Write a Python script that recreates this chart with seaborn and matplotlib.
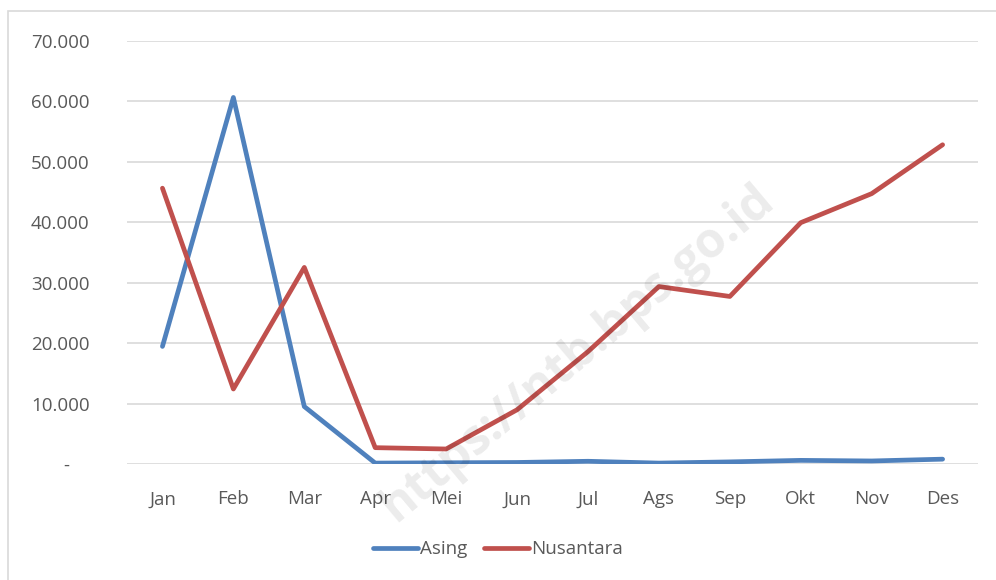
import matplotlib
matplotlib.use("Agg")
import matplotlib.pyplot as plt
import seaborn as sns
import pandas as pd
from matplotlib.patches import Rectangle
from matplotlib.lines import Line2D

months = ["Jan", "Feb", "Mar", "Apr", "Mei", "Jun", "Jul", "Ags", "Sep", "Okt", "Nov", "Des"]
asing = [19440, 60600, 9500, 150, 200, 250, 450, 150, 350, 600, 500, 800]
nusantara = [45600, 12400, 32500, 2700, 2480, 8970, 18580, 29340, 27700, 39900, 44700, 52780]
series_names = ["Asing", "Nusantara"]
yticks = [0, 10000, 20000, 30000, 40000, 50000, 60000, 70000]

df = pd.DataFrame({
    "Bulan": months * 2,
    "Jumlah": asing + nusantara,
    "Seri": [series_names[0]] * len(months) + [series_names[1]] * len(months),
})
df["x"] = [i for i in range(len(months))] * 2

sns.set_style("white")
plt.rcParams["font.family"] = ["Open Sans", "DejaVu Sans"]

fig = plt.figure(figsize=(9.96, 5.80), dpi=100)
ax = fig.add_axes([0.1275, 0.2, 0.8545, 0.730])

palette = {"Asing": "#4F81BD", "Nusantara": "#C0504D"}
sns.lineplot(data=df, x="x", y="Jumlah", hue="Seri", palette=palette,
             linewidth=3.4, ax=ax, legend=False, sort=False)
for l in ax.lines:
    l.set_solid_capstyle("round")
    l.set_solid_joinstyle("round")

ax.set_xlim(-0.5, len(months) - 0.5)
ax.set_ylim(0, 70000)
ax.set_yticks(yticks)
ax.set_yticklabels(["-    " if v == 0 else f"{v:,}".replace(",", ".") for v in yticks])
ax.set_xticks(range(len(months)))
ax.set_xticklabels(months)
ax.tick_params(axis="both", length=0, labelsize=13.5, colors="#595959")
ax.tick_params(axis="y", pad=27)
ax.tick_params(axis="x", pad=19)
ax.set_xlabel("")
ax.set_ylabel("")
for s in ax.spines.values():
    s.set_visible(False)
ax.grid(axis="y", color="#D9D9D9", linewidth=1.2)
ax.set_axisbelow(True)

# legend
handles = [Line2D([0], [0], color=palette[n], linewidth=3.4, solid_capstyle="round") for n in series_names]
fig.legend(handles, series_names, loc="center", bbox_to_anchor=(0.5, 0.053), ncol=2,
           frameon=False, fontsize=13.5, handlelength=2.4, handletextpad=0.1,
           columnspacing=0.9, labelcolor="#595959")

# watermark
fig.text(0.58, 0.39, "https://ntb.bps.go.id", rotation=40, fontsize=35, fontweight="bold",
         color="#000000", alpha=0.08, ha="center", va="center", zorder=10)

# outer border
fig.patches.append(Rectangle((8 / 996, -0.01), 1.2, 1 - 11 / 580 + 0.01, transform=fig.transFigure,
                             fill=False, edgecolor="#D9D9D9", linewidth=1.2))

fig.savefig("out.png", dpi=100)
